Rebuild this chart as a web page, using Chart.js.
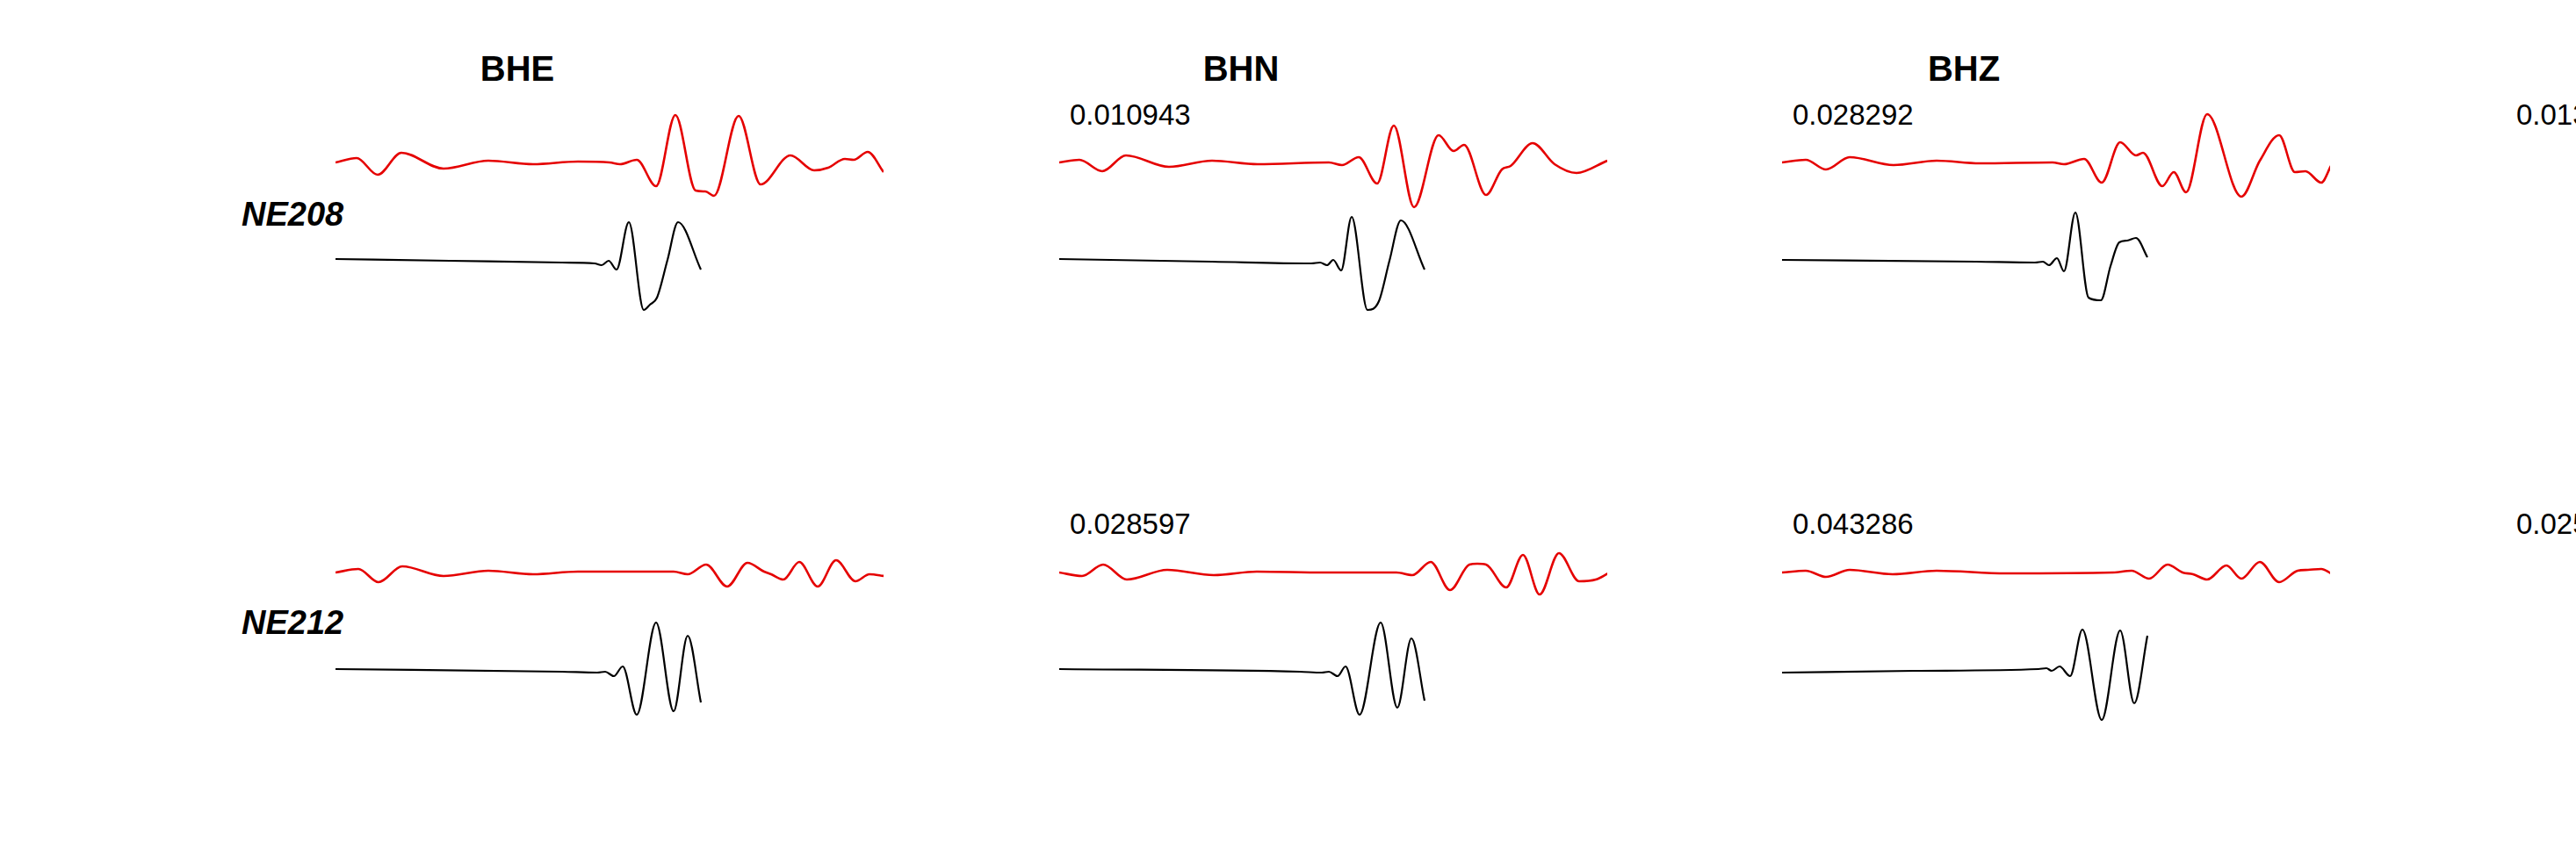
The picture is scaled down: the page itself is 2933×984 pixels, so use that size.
<!DOCTYPE html>
<html>
<head>
<meta charset="utf-8">
<script src="https://cdn.jsdelivr.net/npm/chart.js@4.4.1/dist/chart.umd.min.js"></script>
<style>
  html, body { margin: 0; padding: 0; background: #fff; }
  body { width: 2933px; height: 984px; position: relative; overflow: hidden;
         font-family: "Liberation Sans", Arial, Helvetica, sans-serif; }
  canvas { position: absolute; }
  .txt { position: absolute; line-height: 1; white-space: nowrap; color: #000; }
  .chan { font-size: 40px; font-weight: bold; width: 300px; text-align: center; }
  .sta { font-size: 38px; font-weight: bold; font-style: italic; }
  .ratio { font-size: 33px; }
</style>
</head>
<body>
<script>
// channels across, stations down
const channels = ["BHE", "BHN", "BHZ"];
const stations = ["NE208", "NE212"];
// amplitude ratio printed above each panel (first column has none, fourth is cut off)
const ratiosNE208 = ["", "0.010943", "0.028292", "0.013"];
const ratiosNE212 = ["", "0.028597", "0.043286", "0.025"];

// traces: [time sample, amplitude] - red (syn) and black (obs)
const synNE208BHE = [[0,0],[24,5],[48,-14],[75,11],[123,-7],[174,2],[225,-2],[276,1],[312,0],[324,-2],[343,3],[365,-27],[387,54],[410,-32],[421,-33],[431,-38],[459,53],[484,-25],[518,8],[545,-9],[561,-6],[580,4],[590,3],[606,12],[624,-11]];
const obsNE208BHE = [[0,0],[130,-2],[258,-4],[295,-5],[303,-7],[311,-2],[320,-12],[334,42],[351,-58],[358,-52],[366,-44],[378,-1],[390,42],[416,-12]];

const synNE208BHN = [[0,0],[23,3],[49,-10],[76,8],[125,-5],[174,2],[226,-2],[307,0],[322,-3],[341,6],[362,-24],[381,42],[404,-51],[432,31],[449,13],[461,20],[486,-37],[504,-8],[514,-4],[539,22],[564,-2],[589,-12],[624,2]];
const obsNE208BHN = [[0,0],[174,-3],[287,-5],[297,-4],[305,-7],[312,-1],[321,-13],[333,48],[351,-58],[364,-48],[376,-2],[389,44],[416,-12]];

const synNE208BHZ = [[0,0],[27,3],[50,-8],[77,6],[127,-3],[176,2],[225,-1],[308,0],[321,-2],[344,4],[364,-23],[385,23],[403,8],[411,11],[433,-27],[446,-11],[460,-34],[484,55],[523,-39],[544,2],[566,31],[584,-11],[596,-10],[614,-23],[625,-4]];
const obsNE208BHZ = [[0,-1],[221,-3],[288,-4],[297,-3],[304,-7],[313,1],[321,-14],[334,53],[349,-44],[363,-47],[374,-8],[384,19],[393,21],[403,24],[416,2]];

const synNE212BHE = [[0,0],[26,4],[49,-11],[76,7],[123,-4],[174,2],[225,-2],[276,1],[385,1],[401,-2],[422,9],[446,-16],[469,11],[488,1],[496,-2],[510,-8],[528,12],[549,-16],[570,14],[592,-10],[608,-2],[625,-4]];
const obsNE212BHE = [[0,0],[258,-3],[298,-4],[307,-3],[317,-8],[327,3],[343,-52],[365,53],[385,-48],[401,38],[416,-38]];

const synNE212BHN = [[0,0],[26,-4],[50,9],[77,-8],[123,3],[176,-3],[225,1],[301,0],[384,0],[402,-3],[423,12],[445,-20],[467,9],[476,10],[486,9],[509,-17],[528,20],[547,-25],[569,22],[592,-10],[611,-8],[625,-1]];
const obsNE212BHN = [[0,0],[274,-3],[299,-4],[307,-3],[317,-8],[326,3],[342,-52],[366,53],[385,-44],[401,35],[416,-36]];

const synNE212BHZ = [[0,0],[27,2],[50,-5],[77,3],[126,-2],[176,2],[255,-1],[377,0],[398,2],[418,-7],[439,9],[456,0],[468,-2],[484,-8],[506,8],[523,-7],[544,12],[566,-11],[587,2],[599,3],[614,4],[625,-1]];
const obsNE212BHZ = [[0,-4],[150,-2],[292,0],[301,1],[307,-2],[316,3],[328,-8],[342,45],[364,-58],[385,44],[401,-39],[416,38]];

const synTraces = [[synNE208BHE, synNE208BHN, synNE208BHZ], [synNE212BHE, synNE212BHN, synNE212BHZ]];
const obsTraces = [[obsNE208BHE, obsNE208BHN, obsNE208BHZ], [obsNE212BHE, obsNE212BHN, obsNE212BHZ]];
const ratios = [ratiosNE208, ratiosNE212];

// layout
const colX = [382, 1206, 2029, 2853];
const rowTop = [100, 567];
const panelW = 624, panelH = 280;

function addText(cls, text, left, top) {
    const d = document.createElement("div");
    d.className = "txt " + cls;
    d.textContent = text;
    d.style.left = left + "px";
    d.style.top = top + "px";
    document.body.appendChild(d);
}

channels.forEach((ch, c) => addText("chan", ch, colX[c] + 207 - 150, 58));
stations.forEach((st, r) => addText("sta", st, 275, r === 0 ? 225 : 690));
ratios.forEach((row, r) => row.forEach((v, c) => {
    if (v) addText("ratio", v, colX[c] + 12, r === 0 ? 114 : 580);
}));

const toXY = arr => arr.map(([x, y]) => ({ x, y }));

stations.forEach((st, r) => {
    channels.forEach((ch, c) => {
        const cv = document.createElement("canvas");
        cv.width = panelW;
        cv.height = panelH;
        cv.style.left = colX[c] + "px";
        cv.style.top = rowTop[r] + "px";
        document.body.appendChild(cv);

        new Chart(cv, {
            type: "line",
            data: {
                datasets: [
                    {
                        data: toXY(synTraces[r][c]),
                        yAxisID: "ySyn",
                        borderColor: "#e50000",
                        borderWidth: 2.6
                    },
                    {
                        data: toXY(obsTraces[r][c]),
                        yAxisID: "yObs",
                        borderColor: "#000000",
                        borderWidth: 2.2
                    }
                ]
            },
            options: {
                responsive: false,
                animation: false,
                events: [],
                layout: { padding: 0 },
                elements: {
                    point: { radius: 0 },
                    line: { cubicInterpolationMode: "monotone", fill: false }
                },
                datasets: { line: { clip: false } },
                plugins: { legend: { display: false }, tooltip: { enabled: false } },
                scales: {
                    x: { type: "linear", min: 0, max: 624, display: false },
                    ySyn: { min: -195, max: 85, display: false },
                    yObs: { min: -85, max: 195, display: false }
                }
            }
        });
    });
});
</script>
</body>
</html>
